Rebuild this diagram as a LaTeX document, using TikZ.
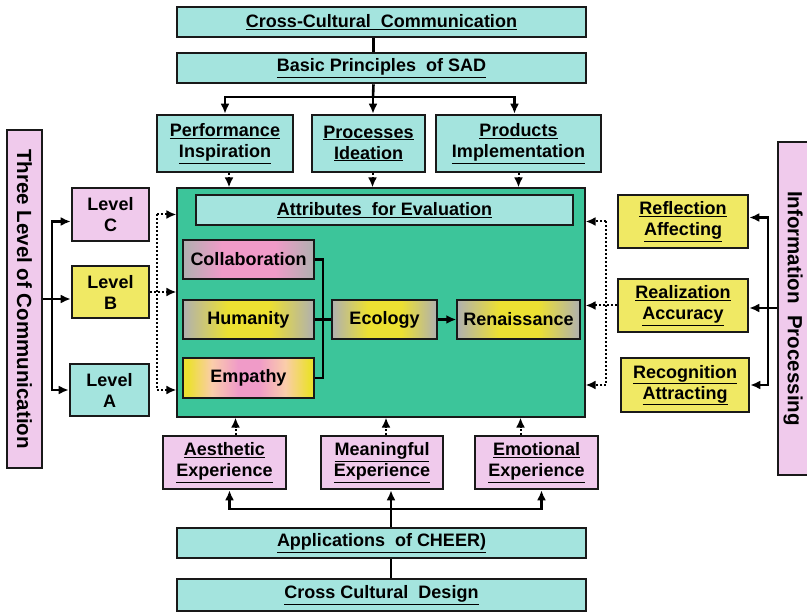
\documentclass[tikz,border=0pt]{standalone}
\usepackage{fontspec}
\setmainfont{Liberation Sans}
\usetikzlibrary{arrows.meta}

\definecolor{cyanbox}{RGB}{164,228,222}
\definecolor{greenbox}{RGB}{60,197,154}
\definecolor{pinkbox}{RGB}{240,202,236}
\definecolor{yellowbox}{RGB}{240,233,100}
\definecolor{grayshade}{RGB}{176,176,176}
\definecolor{pinkshade}{RGB}{240,155,200}
\definecolor{yellowshade}{RGB}{236,224,50}
\definecolor{peachshade}{RGB}{250,205,170}
\definecolor{edgegray}{RGB}{25,25,25}

\pgfdeclarehorizontalshading{graypink}{100bp}{color(0bp)=(grayshade); color(25bp)=(grayshade);
  color(40bp)=(pinkshade); color(60bp)=(pinkshade); color(75bp)=(grayshade); color(100bp)=(grayshade)}
\pgfdeclarehorizontalshading{grayyellow}{100bp}{color(0bp)=(grayshade); color(25bp)=(grayshade);
  color(42bp)=(yellowshade); color(58bp)=(yellowshade); color(75bp)=(grayshade); color(100bp)=(grayshade)}
\pgfdeclarehorizontalshading{yellowpink}{100bp}{color(0bp)=(yellowshade); color(27bp)=(yellowshade);
  color(36bp)=(peachshade); color(46bp)=(pinkshade); color(54bp)=(pinkshade); color(64bp)=(peachshade);
  color(73bp)=(yellowshade); color(100bp)=(yellowshade)}

\newcommand{\ulin}[1]{\underline{#1}}

\begin{document}
\begin{tikzpicture}[x=1pt,y=-1pt]
\tikzset{box/.style = {draw=edgegray,line width=2.6pt,align=center,inner sep=1pt,
  font=\fontsize{18}{21}\selectfont\bfseries}}
\tikzset{cbox/.style = {box,fill=cyanbox}}
\tikzset{pbox/.style = {box,fill=pinkbox}}
\tikzset{ybox/.style = {box,fill=yellowbox}}
\tikzset{gbox/.style = {box,line width=1.4pt,minimum height=39}}
\tikzset{line/.style = {line width=2.6pt}}
\tikzset{edge/.style = {-{Latex[length=10pt,width=9pt]},line width=2.6pt}}
\tikzset{dotline/.style = {dotted,line width=2pt}}
\tikzset{dotedge/.style = {-{Latex[length=10pt,width=9pt]},dotted,line width=2pt}}
\useasboundingbox (0,0) rectangle (807,612);

% top
\node[cbox,minimum width=409,minimum height=30] (ccc) at (381.5,22) {\ulin{Cross-Cultural\ \ Communication}};
\node[cbox,minimum width=409,minimum height=30] (sad) at (381.5,68) {\ulin{Basic Principles\ \ of SAD}};
\node[cbox,minimum width=136,minimum height=57] (perf) at (225,143.5) {\ulin{Performance}\\\ulin{Inspiration}};
\node[cbox,minimum width=113,minimum height=57] (proc) at (368.5,143.5) {\ulin{Processes}\\\ulin{Ideation}};
\node[cbox,minimum width=165,minimum height=57] (prod) at (518.5,143.5) {\ulin{Products}\\\ulin{Implementation}};

% centre
\node[box,line width=1.2pt,fill=greenbox,minimum width=408,minimum height=229] (main) at (381,302.5) {};
\node[cbox,minimum width=377,minimum height=30] (attr) at (384.5,210) {\ulin{Attributes\ \ for Evaluation}};
\node[gbox,minimum width=131,shading=graypink] (collab) at (248.5,259.5) {Collaboration};
\node[gbox,minimum width=131,shading=grayyellow] (human) at (248.5,319.5) {Humanity};
\node[gbox,minimum width=131,minimum height=40,shading=yellowpink] (empathy) at (248.5,378) {Empathy};
\node[gbox,minimum width=105,shading=grayyellow] (eco) at (384.5,319.5) {Ecology};
\node[gbox,minimum width=123,shading=grayyellow] (ren) at (518.5,319.5) {Renaissance};

% left
\node[pbox,minimum width=35,minimum height=338,font=\fontsize{20.5}{24}\selectfont\bfseries] (three) at (24.5,299) {\rotatebox{-90}{Three Level of Communication}};
\node[pbox,minimum width=77,minimum height=53] (lvC) at (110.5,214.5) {Level\\C};
\node[ybox,minimum width=77,minimum height=52] (lvB) at (110.5,292) {Level\\B};
\node[cbox,minimum width=79,minimum height=52] (lvA) at (109.5,390) {Level\\A};

% right
\node[pbox,minimum width=30,minimum height=333,font=\fontsize{20.5}{24}\selectfont\bfseries] (info) at (793,308.5) {\rotatebox{-90}{Information\ \ Processing}};
\node[ybox,minimum width=130,minimum height=53] (refl) at (683,221.5) {\ulin{Reflection}\\\ulin{Affecting}};
\node[ybox,minimum width=130,minimum height=53] (real) at (683,305.5) {\ulin{Realization}\\\ulin{Accuracy}};
\node[ybox,minimum width=128,minimum height=54] (recog) at (685,385) {\ulin{Recognition}\\\ulin{Attracting}};

% bottom
\node[pbox,minimum width=123,minimum height=53] (aes) at (224.5,462.5) {\ulin{Aesthetic}\\\ulin{Experience}};
\node[pbox,minimum width=122,minimum height=53] (mean) at (382,462.5) {\ulin{Meaningful}\\\ulin{Experience}};
\node[pbox,minimum width=123,minimum height=53] (emo) at (536.5,462.5) {\ulin{Emotional}\\\ulin{Experience}};
\node[cbox,minimum width=409,minimum height=30] (app) at (381.5,543) {\ulin{Applications\ \ of CHEER)}};
\node[cbox,minimum width=409,minimum height=32] (ccd) at (381.5,595) {\ulin{Cross Cultural\ \ Design}};

% top connectors
\coordinate (sp) at (373,97);
\draw[line] ([xshift=-8pt]ccc.south) -- ([xshift=-8pt]sad.north);
\draw[line] ([xshift=-8pt]sad.south) -- (sp);
\draw[edge] (sp) -| (perf.north);
\draw[edge] (sp) -- (sp |- proc.north);
\draw[edge] (sp) -| ([xshift=-4pt]prod.north);
\draw[dotedge] ([xshift=4pt]perf.south) -- ([xshift=4pt]perf.south |- main.north);
\draw[dotedge] ([xshift=4pt]proc.south) -- ([xshift=4pt]proc.south |- main.north);
\draw[dotedge] (prod.south) -- (prod.south |- main.north);

% inner connectors
\coordinate (ij) at (323,320);
\draw[line] (collab.east) -| (ij |- empathy.east) -- (empathy.east);
\draw[line] (human.east) -- (eco.west);
\draw[edge] (eco) -- (ren);

% left connectors
\coordinate (lj) at (52,299);
\draw[line] (three.east |- lj) -- (lj);
\draw[edge] (lj) |- ([yshift=-7pt]lvC.west);
\draw[edge] (lj) -- (lvB.west |- lj);
\draw[edge] (lj) |- (lvA.west);
\coordinate (dl) at (157,300);
\draw[dotline] (dl |- lvC) -- (dl |- lvA);
\draw[dotedge] (dl |- lvC) -- (main.west |- lvC);
\draw[dotedge] (lvB.east) -- (main.west |- lvB);
\draw[dotedge] (dl |- lvA) -- (main.west |- lvA);

% right connectors
\coordinate (rj) at (768,308);
\draw[line] (info.west |- rj) -- (rj);
\draw[edge] (rj) |- ([yshift=4pt]refl.east);
\draw[edge] (rj) -- (real.east |- rj);
\draw[edge] (rj) |- (recog.east);
\coordinate (dr) at (606,310);
\draw[dotline] (dr |- refl) -- (dr |- recog);
\draw[dotedge] (dr |- refl) -- (main.east |- refl);
\draw[dotedge] (real.west) -- (main.east |- real);
\draw[dotedge] (dr |- recog) -- (main.east |- recog);

% bottom connectors
\coordinate (bj) at (391,509);
\draw[line] ([xshift=9.5pt]ccd.north) -- ([xshift=9.5pt]app.south);
\draw[line] ([xshift=9.5pt]app.north) -- (bj);
\draw[edge] (bj) -| ([xshift=5pt]aes.south);
\draw[edge] (bj) -- (bj |- mean.south);
\draw[edge] (bj) -| ([xshift=5pt]emo.south);
\draw[dotedge] ([xshift=11pt]aes.north) -- ([xshift=11pt]aes.north |- main.south);
\draw[dotedge] ([xshift=4pt]mean.north) -- ([xshift=4pt]mean.north |- main.south);
\draw[dotedge] ([xshift=-16pt]emo.north) -- ([xshift=-16pt]emo.north |- main.south);
\end{tikzpicture}
\end{document}
